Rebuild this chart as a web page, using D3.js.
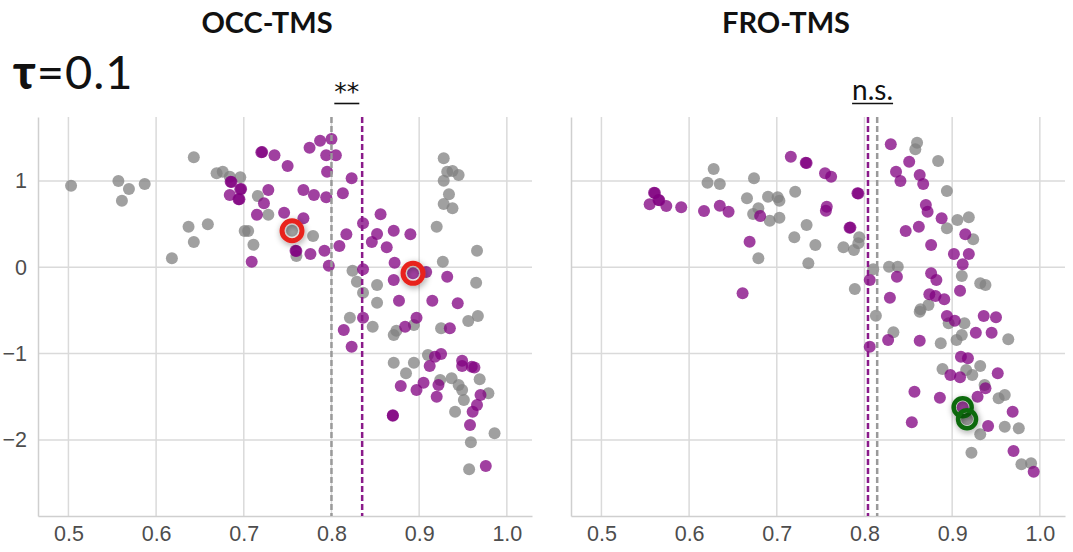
<!DOCTYPE html>
<html>
<head>
<meta charset="utf-8">
<script src="https://cdn.jsdelivr.net/npm/d3@7"></script>
<style>
  body { margin: 0; background: #fff; }
  svg { display: block; }
</style>
</head>
<body>
<svg id="chart" width="1073" height="552"></svg>
<script>
// ---- data -------------------------------------------------------------
const xTicks = [0.5, 0.6, 0.7, 0.8, 0.9, 1.0];
const yTicks = [-2, -1, 0, 1];

// OCC-TMS: grey = baseline sessions, purple = stimulation sessions
const occGray = [
  [0.503,0.946],[0.557,1.0],[0.569,0.907],[0.561,0.772],[0.587,0.965],[0.643,1.275],
  [0.669,1.089],[0.676,1.108],[0.684,1.05],[0.696,1.043],[0.716,0.826],[0.728,0.61],
  [0.637,0.47],[0.659,0.50],[0.643,0.293],[0.618,0.104],[0.701,0.42],[0.705,0.42],
  [0.711,0.262],[0.755,0.424],[0.760,0.13],[0.779,0.363],
  [0.928,1.263],[0.932,1.108],[0.938,1.116],[0.945,1.069],[0.928,1.004],[0.934,0.846],
  [0.928,0.733],[0.938,0.684],[0.920,0.47],[0.966,0.192],[0.927,0.065],[0.965,-0.178],
  [0.824,-0.04],[0.829,-0.167],[0.836,-0.294],[0.852,-0.205],[0.852,-0.41],
  [0.821,-0.584],[0.847,-0.688],[0.871,-0.784],[0.874,-0.735],[0.894,-0.669],[0.925,-0.707],
  [0.956,-0.622],[0.967,-0.564],[0.871,-1.105],[0.894,-1.105],[0.910,-1.016],[0.885,-1.228],
  [0.924,-1.306],[0.937,-1.286],[0.945,-1.364],[0.949,-1.422],[0.951,-1.538],[0.969,-1.298],
  [0.979,-1.46],[0.941,-1.673],[0.986,-1.924],[0.959,-2.028],[0.957,-2.341]
];
const occPurple = [
  [0.720,1.333],[0.721,1.335],[0.735,1.30],[0.750,1.174],[0.685,0.992],[0.686,0.99],
  [0.697,0.907],[0.696,0.905],[0.684,0.838],[0.695,0.788],[0.694,0.79],[0.728,0.896],
  [0.723,0.742],[0.715,0.61],[0.746,0.633],[0.759,0.192],[0.760,0.19],[0.709,0.065],
  [0.775,1.386],[0.787,1.467],[0.800,1.487],[0.794,1.30],[0.805,1.30],[0.795,1.108],
  [0.823,1.031],[0.768,0.896],[0.780,0.838],[0.794,0.811],[0.813,0.857],[0.768,0.568],
  [0.836,0.51],[0.856,0.614],[0.817,0.382],[0.852,0.386],[0.871,0.424],[0.890,0.382],
  [0.846,0.293],[0.863,0.232],[0.809,0.247],[0.776,0.154],[0.792,0.192],[0.797,0.019],
  [0.872,0.053],[0.893,-0.07],[0.908,-0.054],[0.871,-0.147],[0.932,-0.109],[0.836,-0.023],
  [0.877,-0.387],[0.915,-0.387],[0.944,-0.417],
  [0.836,-0.584],[0.814,-0.727],[0.823,-0.92],[0.884,-0.688],[0.897,-0.584],[0.935,-0.707],
  [0.918,-1.036],[0.925,-1.005],[0.912,-1.144],[0.879,-1.375],[0.905,-1.337],[0.897,-1.422],
  [0.922,-1.364],[0.920,-1.50],[0.949,-1.082],[0.949,-1.144],[0.960,-1.152],[0.963,-1.16],
  [0.970,-1.48],[0.966,-1.596],[0.961,-1.673],[0.870,-1.72],[0.870,-1.715],[0.958,-1.827],
  [0.976,-2.302]
];

// FRO-TMS
const froGray = [
  [0.628,1.139],[0.621,0.98],[0.635,0.965],[0.674,1.031],[0.666,0.80],[0.690,0.818],
  [0.701,0.811],[0.703,0.772],[0.721,0.876],[0.673,0.618],[0.679,0.684],[0.692,0.54],
  [0.703,0.575],[0.720,0.348],[0.679,0.104],[0.734,0.49],[0.736,0.046],
  [0.860,1.444],[0.858,1.367],[0.884,1.232],[0.894,0.884],[0.906,0.548],[0.919,0.579],
  [0.894,0.452],[0.924,0.324],[0.744,0.258],[0.776,0.232],[0.788,0.20],[0.794,0.348],
  [0.793,0.278],[0.810,-0.023],[0.828,0.007],[0.838,0.007],[0.789,-0.251],[0.911,-0.10],
  [0.932,-0.186],[0.938,-0.205],[0.864,-0.487],[0.873,-0.437],
  [0.813,-0.561],[0.833,-0.753],[0.863,-0.514],[0.896,-0.649],[0.914,-0.649],[0.911,-0.784],
  [0.905,-0.842],[0.887,-0.881],[0.964,-0.834],[0.889,-1.178],[0.916,-1.19],[0.923,-1.248],
  [0.932,-1.144],[0.937,-1.364],[0.953,-1.518],[0.960,-1.48],[0.960,-1.847],[0.976,-1.866],
  [0.932,-1.935],[0.922,-2.148],[0.979,-2.283],[0.990,-2.271],[0.917,-1.761]
];
const froPurple = [
  [0.560,0.864],[0.561,0.86],[0.565,0.78],[0.566,0.778],[0.555,0.73],[0.574,0.71],
  [0.591,0.695],[0.617,0.652],[0.635,0.714],[0.645,0.644],[0.681,0.594],[0.669,0.297],
  [0.661,-0.301],[0.716,1.282],[0.733,1.212],[0.734,1.21],
  [0.755,1.089],[0.762,1.05],[0.792,0.857],[0.793,0.855],[0.757,0.703],[0.756,0.656],
  [0.783,0.459],[0.784,0.46],[0.830,1.425],[0.851,1.224],[0.836,1.108],[0.841,1.0],
  [0.863,1.07],[0.867,0.965],[0.870,0.722],[0.872,0.644],[0.888,0.568],[0.847,0.42],
  [0.862,0.47],[0.876,0.258],[0.915,0.382],[0.902,0.154],[0.919,0.154],[0.912,0.035],
  [0.806,-0.147],[0.837,-0.109],[0.876,-0.07],[0.882,-0.147],[0.909,-0.271],[0.829,-0.352],
  [0.874,-0.313],[0.881,-0.333],[0.891,-0.371],
  [0.894,-0.564],[0.903,-0.619],[0.936,-0.564],[0.950,-0.579],[0.927,-0.758],[0.945,-0.758],
  [0.827,-0.842],[0.863,-0.85],[0.806,-0.92],[0.910,-1.036],[0.918,-1.054],[0.898,-1.248],
  [0.909,-1.275],[0.952,-1.228],[0.938,-1.402],[0.929,-1.499],[0.857,-1.441],[0.886,-1.511],
  [0.854,-1.796],[0.912,-1.622],[0.941,-1.839],[0.969,-1.673],[0.970,-2.129],[0.993,-2.368]
];

// group means (dashed lines) and highlighted sessions
const occMeans = { gray: 0.800, purple: 0.835 };
const froMeans = { gray: 0.8145, purple: 0.804 };
const occHighlight = [[0.755,0.424],[0.893,-0.07]];
const froHighlight = [[0.912,-1.622],[0.917,-1.761]];

// ---- layout -----------------------------------------------------------
const GRAY = "#808080", PURPLE = "#800080";
const plotTop = 117, plotBottom = 516;
const panels = [
  { title: "OCC-TMS", titleX: 267, left: 38, right: 532, gray: occGray, purple: occPurple,
    means: occMeans, sig: "**", sigFont: "'DejaVu Sans', sans-serif", sigSize: 25,
    highlight: occHighlight, ring: "#e8231b", ringR: 10, ringW: 5, yLabels: true },
  { title: "FRO-TMS", titleX: 786, left: 571, right: 1065, gray: froGray, purple: froPurple,
    means: froMeans, sig: "n.s.", sigFont: "Lato, 'Noto Sans', sans-serif", sigSize: 28,
    highlight: froHighlight, ring: "#0c6a0c", ringR: 9, ringW: 4.5, yLabels: false }
];

const svg = d3.select("#chart");
const defs = svg.append("defs");
defs.append("filter").attr("id", "halo")
  .attr("x", "-60%").attr("y", "-60%").attr("width", "220%").attr("height", "220%")
  .append("feDropShadow")
  .attr("dx", 1).attr("dy", 2).attr("stdDeviation", 3)
  .attr("flood-color", "#000").attr("flood-opacity", 0.4);

const y = d3.scaleLinear().domain([-2.882, 1.742]).range([plotBottom, plotTop]);
const fmtX = d3.format(".1f");
const fmtY = d => (d < 0 ? "\u2212" : "") + Math.abs(d);

panels.forEach(p => {
  const x = d3.scaleLinear().domain([0.4653, 1.0287]).range([p.left, p.right]);
  const g = svg.append("g");

  // grid
  g.append("g").selectAll("line").data(xTicks).join("line")
    .attr("x1", d => x(d)).attr("x2", d => x(d)).attr("y1", plotTop).attr("y2", plotBottom)
    .attr("stroke", "#dadada").attr("stroke-width", 1.5);
  g.append("g").selectAll("line").data(yTicks).join("line")
    .attr("x1", p.left).attr("x2", p.right).attr("y1", d => y(d)).attr("y2", d => y(d))
    .attr("stroke", "#dadada").attr("stroke-width", 1.5);

  // axes
  const ax = g.append("g").attr("transform", `translate(0,${plotBottom})`)
    .call(d3.axisBottom(x).tickValues(xTicks).tickFormat(fmtX).tickSize(0).tickPadding(10));
  ax.select(".domain").attr("stroke", "#cfcfcf").attr("stroke-width", 1.5);
  ax.selectAll("text").attr("font-family", "'Liberation Sans', Arial, sans-serif")
    .attr("font-size", 21.5).attr("fill", "#4d4d4d");

  const ay = g.append("g").attr("transform", `translate(${p.left},0)`)
    .call(d3.axisLeft(y).tickValues(yTicks).tickFormat(p.yLabels ? fmtY : "").tickSize(0).tickPadding(11));
  ay.select(".domain").attr("stroke", "#cfcfcf").attr("stroke-width", 1.5);
  ay.selectAll("text").attr("font-family", "'Liberation Sans', Arial, sans-serif")
    .attr("font-size", 21.5).attr("fill", "#4d4d4d");

  // scatter
  g.append("g").selectAll("circle").data(p.gray).join("circle")
    .attr("cx", d => x(d[0])).attr("cy", d => y(d[1])).attr("r", 6)
    .attr("fill", GRAY).attr("fill-opacity", 0.75);
  g.append("g").selectAll("circle").data(p.purple).join("circle")
    .attr("cx", d => x(d[0])).attr("cy", d => y(d[1])).attr("r", 6)
    .attr("fill", PURPLE).attr("fill-opacity", 0.75);

  // group means
  [["gray", "#9a9a9a"], ["purple", "#8a1a8a"]].forEach(([k, c]) => {
    g.append("line")
      .attr("x1", x(p.means[k])).attr("x2", x(p.means[k]))
      .attr("y1", plotTop).attr("y2", plotBottom)
      .attr("stroke", c).attr("stroke-width", 2.5).attr("stroke-dasharray", "6,3");
  });

  // highlighted sessions
  g.append("g").selectAll("circle").data(p.highlight).join("circle")
    .attr("cx", d => x(d[0])).attr("cy", d => y(d[1])).attr("r", p.ringR)
    .attr("fill", "none").attr("stroke", p.ring).attr("stroke-width", p.ringW)
    .attr("filter", "url(#halo)");

  // title
  svg.append("text").attr("x", p.titleX).attr("y", 33).attr("text-anchor", "middle")
    .attr("font-family", "Lato, 'Noto Sans', sans-serif").attr("font-weight", 700)
    .attr("font-size", 29).attr("fill", "#111").text(p.title);

  // significance mark, underlined
  const cx = (x(p.means.gray) + x(p.means.purple)) / 2;
  const s = svg.append("text").attr("x", cx).attr("y", 100).attr("text-anchor", "middle")
    .attr("font-family", p.sigFont).attr("font-size", p.sigSize)
    .attr("fill", "#111").text(p.sig);
  const w = s.node().getComputedTextLength();
  svg.append("line").attr("x1", cx - w / 2).attr("x2", cx + w / 2)
    .attr("y1", 103.5).attr("y2", 103.5).attr("stroke", "#111").attr("stroke-width", 1.6);
});

// parameter label
const tau = svg.append("text").attr("x", 13).attr("y", 89)
  .attr("font-family", "Lato, 'Noto Sans', sans-serif").attr("font-size", 47)
  .attr("letter-spacing", 1).attr("fill", "#111");
tau.append("tspan").attr("font-weight", 900).text("\u03C4");
tau.append("tspan").text("=0.1");
</script>
</body>
</html>
